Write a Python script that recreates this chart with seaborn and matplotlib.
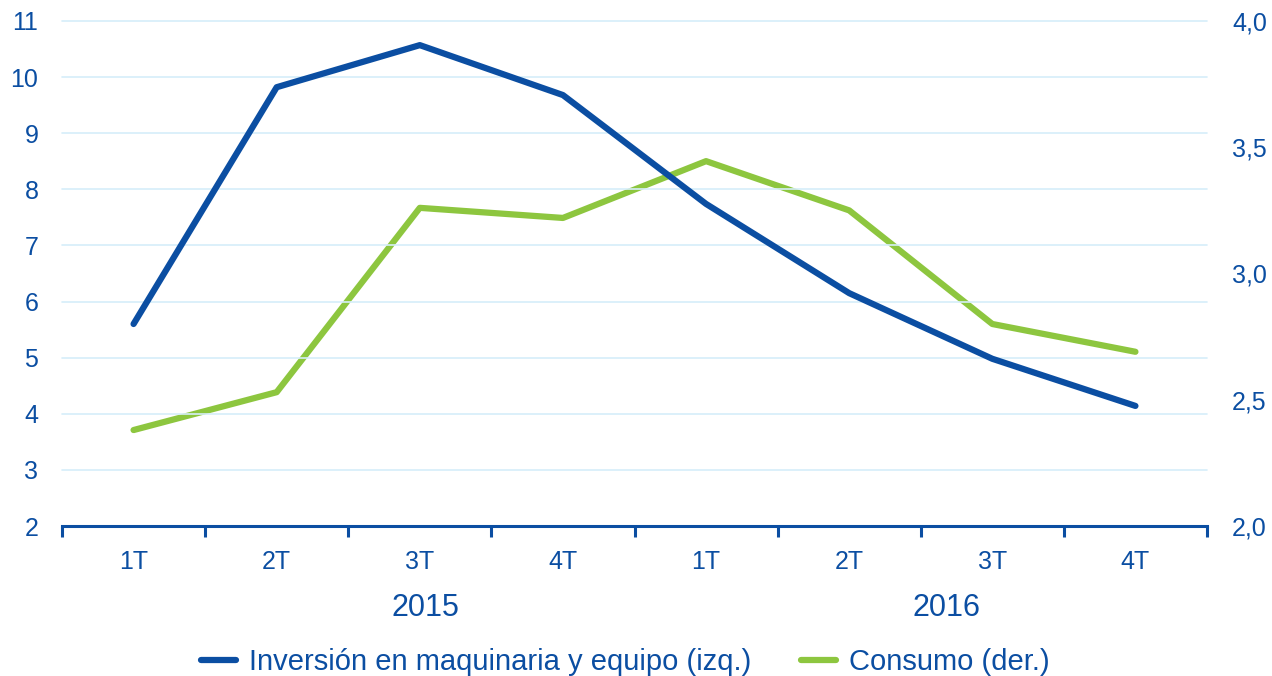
import seaborn as sns
import pandas as pd
import matplotlib.pyplot as plt

quarters = ["1T", "2T", "3T", "4T", "1T", "2T", "3T", "4T"]
years = ["2015", "2016"]
inversion = [5.6, 9.82, 10.57, 9.68, 7.74, 6.15, 4.98, 4.14]
consumo = [2.38, 2.53, 3.26, 3.22, 3.445, 3.25, 2.80, 2.69]

BLUE = "#0b4ea2"
GREEN = "#8dc63f"
GRID = "#d6eef9"

sns.set_style("white")
plt.rcParams['font.family'] = ['Liberation Sans', 'DejaVu Sans']

df = pd.DataFrame({"pos": range(len(quarters)), "inv": inversion, "cons": consumo})

fig = plt.figure(figsize=(12.72, 6.76), dpi=100)
ax = fig.add_axes([62/1272, 1-526/676, (1207-62)/1272, (526-21)/676])
ax2 = ax.twinx()

sns.lineplot(x="pos", y="inv", data=df, ax=ax, color=BLUE, linewidth=4.5,
             label="Inversión en maquinaria y equipo (izq.)", legend=False)
sns.lineplot(x="pos", y="cons", data=df, ax=ax2, color=GREEN, linewidth=4.5,
             label="Consumo (der.)", legend=False)
ax.set_zorder(ax2.get_zorder() + 1)
ax.patch.set_visible(False)

ax.set_xlim(-0.5, len(quarters) - 0.5)
ax.set_ylim(2, 11)
ax.set_yticks(range(2, 12))
ax2.set_ylim(2, 4)
ax2.set_yticks([2.0, 2.5, 3.0, 3.5, 4.0])
ax2.set_yticklabels([f"{v:.1f}".replace(".", ",") for v in [2.0, 2.5, 3.0, 3.5, 4.0]])

ax.grid(axis="y", color=GRID, linewidth=1.2, clip_on=False)
ax.set_axisbelow(True)
for a in (ax, ax2):
    for s in ("left", "right", "top", "bottom"):
        a.spines[s].set_visible(False)
ax.spines["bottom"].set_visible(True)
ax.spines["bottom"].set_color(BLUE)
ax.spines["bottom"].set_linewidth(2.2)

ax.tick_params(axis="y", length=0, labelsize=18, labelcolor=BLUE, pad=17)
ax2.tick_params(axis="y", length=0, labelsize=18, labelcolor=BLUE, pad=18)

# boundaries as major ticks, quarter labels as minor
ax.set_xticks([i - 0.5 for i in range(len(quarters) + 1)])
ax.set_xticklabels([])
ax.set_xticks(range(len(quarters)), minor=True)
ax.set_xticklabels(quarters, minor=True)
ax.tick_params(axis="x", which="major", bottom=True, length=8, width=2.2,
               color=BLUE, direction="out")
ax.tick_params(axis="x", which="minor", bottom=True, length=0, labelsize=18,
               labelcolor=BLUE, pad=17)
ax.set_xlabel("")
ax.set_ylabel("")
ax2.set_ylabel("")

ax.text(2.04, -0.162, years[0], transform=ax.get_xaxis_transform(), ha="center",
        va="center", fontsize=22, color=BLUE)
ax.text(5.68, -0.162, years[1], transform=ax.get_xaxis_transform(), ha="center",
        va="center", fontsize=22, color=BLUE)

h1, l1 = ax.get_legend_handles_labels()
h2, l2 = ax2.get_legend_handles_labels()
fig.legend(h1 + h2, l1 + l2, loc="center", bbox_to_anchor=(0.4915, 1-662/676), ncol=2,
           frameon=False, fontsize=21, labelcolor=BLUE, handlelength=1.2,
           columnspacing=1.7, handletextpad=0.45)

plt.savefig("out.png", dpi=100)
plt.close()
